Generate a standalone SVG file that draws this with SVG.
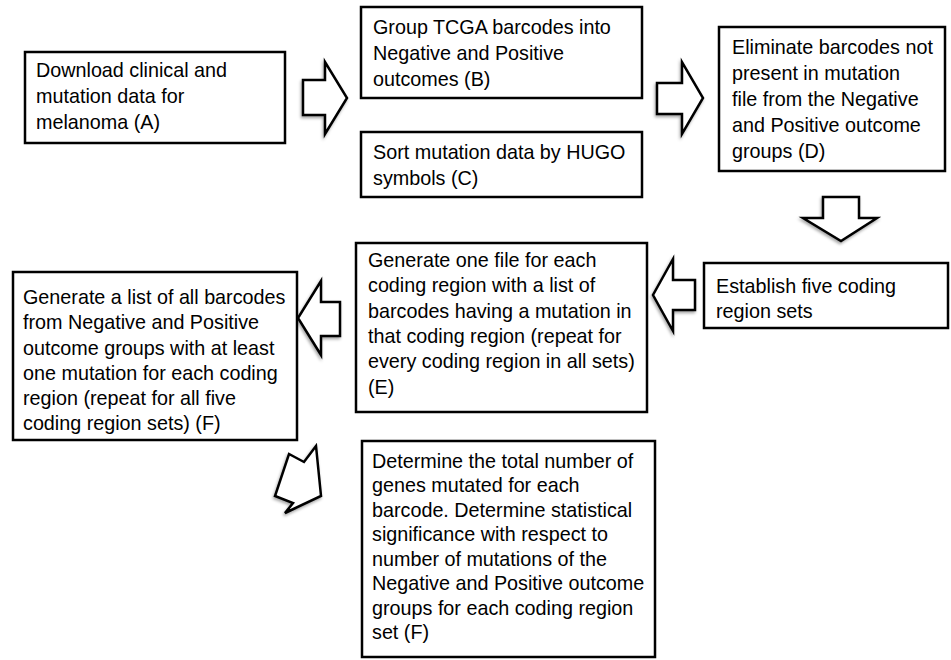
<svg xmlns="http://www.w3.org/2000/svg" width="951" height="660" viewBox="0 0 951 660">
<style>
.box{fill:#fff;stroke:#000;stroke-width:2.5}
.arr{fill:#fff;stroke:#000;stroke-width:2.5;stroke-linejoin:miter;filter:url(#sh)}
text{font-family:"Liberation Sans",Arial,sans-serif;font-size:19.75px;fill:#000}
</style>
<defs>
<filter id="sh" x="-20%" y="-20%" width="140%" height="140%">
<feDropShadow dx="-1" dy="2" stdDeviation="1.5" flood-color="#000" flood-opacity="0.35"/>
</filter>
</defs>
<rect width="951" height="660" fill="#fff"/>
<g id="connectors">
<polygon class="arr" points="303,80 325,80 325,62 347,98 325,134 325,115 303,115"/>
<polygon class="arr" points="657,83 682,83 682,62 703,98 682,134 682,114 657,114"/>
<polygon class="arr" points="823,197 859,197 859,218 877,218 841,241 803,218 823,218"/>
<polygon class="arr" points="695,280 673,280 673,259 653,295 673,331 673,310 695,310"/>
<polygon class="arr" points="340,302 321,302 321,281 298,318 321,355 321,336 340,336"/>
<polygon class="arr" points="316,446 304,462 289,454 275,496 293,503 285,513 321,496"/>
</g>
<g id="nodeA">
<rect class="box" x="25" y="52" width="260" height="91"/>
<text x="36" y="77">Download clinical and</text>
<text x="36" y="103">mutation data for</text>
<text x="36" y="129">melanoma (A)</text>
</g>
<g id="nodeB">
<rect class="box" x="361" y="7" width="281" height="91"/>
<text x="373" y="34">Group TCGA barcodes into</text>
<text x="373" y="60">Negative and Positive</text>
<text x="373" y="86">outcomes (B)</text>
</g>
<g id="nodeC">
<rect class="box" x="361" y="132" width="281" height="65"/>
<text x="373" y="159">Sort mutation data by HUGO</text>
<text x="373" y="185">symbols (C)</text>
</g>
<g id="nodeD">
<rect class="box" x="719" y="27" width="226" height="144"/>
<text x="732" y="54">Eliminate barcodes not</text>
<text x="732" y="80">present in mutation</text>
<text x="732" y="106">file from the Negative</text>
<text x="732" y="132">and Positive outcome</text>
<text x="732" y="158">groups (D)</text>
</g>
<g id="nodeEstablish">
<rect class="box" x="704" y="263" width="244" height="65"/>
<text x="716" y="293">Establish five coding</text>
<text x="716" y="318">region sets</text>
</g>
<g id="nodeE">
<rect class="box" x="356" y="243" width="291" height="169"/>
<text x="368" y="267">Generate one file for each</text>
<text x="368" y="292">coding region with a list of</text>
<text x="368" y="318">barcodes having a mutation in</text>
<text x="368" y="343">that coding region (repeat for</text>
<text x="368" y="368">every coding region in all sets)</text>
<text x="368" y="394">(E)</text>
</g>
<g id="nodeF">
<rect class="box" x="13" y="272" width="284" height="168"/>
<text x="23" y="304">Generate a list of all barcodes</text>
<text x="23" y="329">from Negative and Positive</text>
<text x="23" y="355">outcome groups with at least</text>
<text x="23" y="380">one mutation for each coding</text>
<text x="23" y="405">region (repeat for all five</text>
<text x="23" y="430">coding region sets) (F)</text>
</g>
<g id="nodeG">
<rect class="box" x="362" y="441" width="293" height="216"/>
<text x="372" y="468">Determine the total number of</text>
<text x="372" y="492">genes mutated for each</text>
<text x="372" y="517">barcode. Determine statistical</text>
<text x="372" y="541">significance with respect to</text>
<text x="372" y="566">number of mutations of the</text>
<text x="372" y="590">Negative and Positive outcome</text>
<text x="372" y="615">groups for each coding region</text>
<text x="372" y="639">set (F)</text>
</g>
</svg>
